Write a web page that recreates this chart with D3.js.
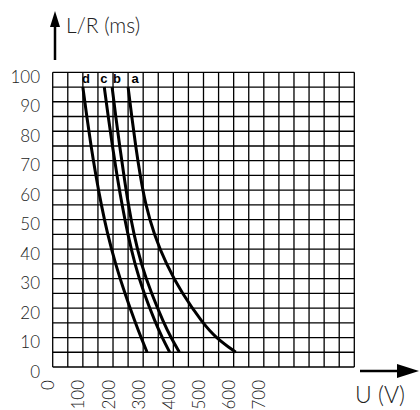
<!DOCTYPE html>
<html>
<head>
<meta charset="utf-8">
<script src="https://cdn.jsdelivr.net/npm/d3@7"></script>
<style>
  html, body { margin: 0; padding: 0; background: #fff; }
  svg { display: block; }
  .lbl { font-family: Lato, "Open Sans", sans-serif; font-weight: 300; fill: #222; }
  .cur { font-family: "Liberation Sans", Arial, sans-serif; font-weight: bold; fill: #000; }
</style>
</head>
<body>
<svg id="chart" width="420" height="410"></svg>
<script>
// ---- data ----
const msLevels = [95, 85, 75, 65, 55, 45, 35, 25, 15, 10, 5];            // L/R (ms)
const curveA = [250, 262, 275, 290, 308, 336, 376, 428, 497, 540, 607];  // U (V)
const curveB = [197, 209, 222, 236, 251, 269, 293, 327, 368, 392, 420];
const curveC = [171, 184, 198, 213, 230, 249, 272, 302, 341, 363, 388];
const curveD = [100, 113, 127, 143, 161, 182, 208, 239, 274, 293, 313];
const curveNames = ["a", "b", "c", "d"];
const curveLabelU = [273, 213, 170, 110];   // where each letter sits (U, V)
const yTicks = [0, 10, 20, 30, 40, 50, 60, 70, 80, 90, 100];
const xTicks = [0, 100, 200, 300, 400, 500, 600, 700];
const xTitle = "U (V)";
const yTitle = "L/R (ms)";

const svg = d3.select("#chart");
const x = d3.scaleLinear().domain([0, 1000]).range([52.7, 354.3]);
const y = d3.scaleLinear().domain([0, 100]).range([367, 72.3]);

// grid
const g = svg.append("g");
g.selectAll("line.v").data(d3.range(0, 1001, 50)).join("line")
  .attr("x1", d => x(d)).attr("x2", d => x(d))
  .attr("y1", y(0)).attr("y2", y(100))
  .attr("stroke", "#000").attr("stroke-width", 1.3);
g.selectAll("line.h").data(d3.range(0, 101, 5)).join("line")
  .attr("y1", d => y(d)).attr("y2", d => y(d))
  .attr("x1", x(0)).attr("x2", x(1000))
  .attr("stroke", "#000").attr("stroke-width", 1.3);

// y tick labels
svg.append("g").selectAll("text").data(yTicks).join("text")
  .attr("class", "lbl")
  .attr("x", 40).attr("y", d => y(d) + 4)
  .attr("text-anchor", "end").attr("dominant-baseline", "central")
  .attr("font-size", 17).text(d => d);

// x tick labels (rotated)
svg.append("g").selectAll("text").data(xTicks).join("text")
  .attr("class", "lbl")
  .attr("transform", d => `translate(${x(d) - 5},380) rotate(-90)`)
  .attr("text-anchor", "end").attr("dominant-baseline", "central")
  .attr("font-size", 17).text(d => d);

// curves
const series = [curveA, curveB, curveC, curveD];
const line = d3.line()
  .x(d => x(d[0])).y(d => y(d[1]))
  .curve(d3.curveBasis);
svg.append("g").selectAll("path").data(series).join("path")
  .attr("d", s => line(s.map((u, i) => [u, msLevels[i]])))
  .attr("fill", "none").attr("stroke", "#000").attr("stroke-width", 3)
  .attr("stroke-linecap", "butt");

// curve letters
svg.append("g").selectAll("text").data(curveNames).join("text")
  .attr("class", "cur")
  .attr("x", (d, i) => x(curveLabelU[i])).attr("y", y(96.5))
  .attr("text-anchor", "middle").attr("font-size", 13).text(d => d);

// axis arrows
svg.append("line").attr("x1", 55).attr("x2", 55).attr("y1", 60).attr("y2", 24)
  .attr("stroke", "#000").attr("stroke-width", 2.5);
svg.append("path").attr("d", "M55,11 L50,27 L60,27 Z").attr("fill", "#000");
svg.append("line").attr("x1", 360).attr("x2", 402).attr("y1", 371).attr("y2", 371)
  .attr("stroke", "#000").attr("stroke-width", 2.5);
svg.append("path").attr("d", "M419,371 L397,364 L397,378 Z").attr("fill", "#000");

// titles
svg.append("text").attr("class", "lbl").attr("x", 66).attr("y", 33)
  .attr("font-size", 21).text(yTitle);
svg.append("text").attr("class", "lbl").attr("x", 355).attr("y", 403)
  .attr("font-size", 23).text(xTitle);
</script>
</body>
</html>
